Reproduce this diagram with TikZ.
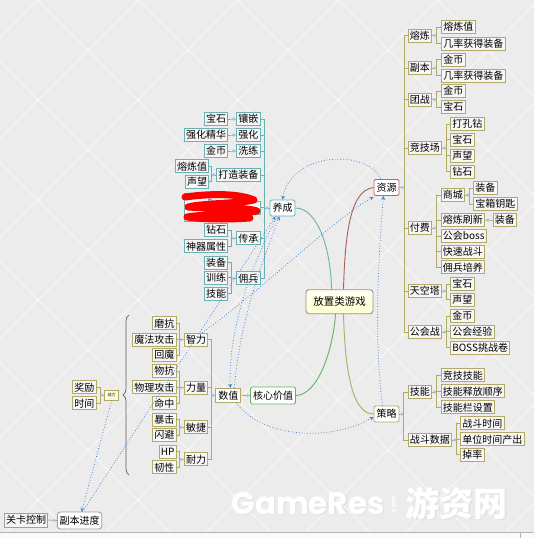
\documentclass[tikz,border=0pt]{standalone}
\usepackage{fontspec}
\setmainfont{Noto Sans CJK SC}
\newfontfamily\wmfont{Poppins}
\usetikzlibrary{decorations.pathreplacing}
\definecolor{olivebr}{RGB}{176,170,100}
\definecolor{tealbr}{RGB}{104,178,178}
\definecolor{greenbr}{RGB}{100,178,96}
\definecolor{redbr}{RGB}{186,104,100}
\definecolor{relblue}{RGB}{58,124,210}
\definecolor{foldblue}{RGB}{160,196,232}
\definecolor{bggray}{RGB}{236,236,236}

\begin{document}
\begin{tikzpicture}[x=1pt,y=-1pt,>=stealth,
  leaf/.style={draw=#1,fill=white!94!gray,line width=0.9pt,
    font=\fontsize{10}{10}\selectfont,text height=8.8pt,text depth=1.2pt,
    inner xsep=1.8pt,inner ysep=0pt,minimum height=13pt},
  leaf/.default=olivebr,
  topic/.style={leaf=#1,fill=white,minimum height=16pt,inner xsep=2.5pt,rounded corners=1.5pt},
  topic/.default=olivebr,
  twig/.style={draw=#1,line width=0.8pt},
  twig/.default=olivebr,
  rel/.style={->,relblue,dotted,line width=0.75pt}]

  \useasboundingbox (0,0) rectangle (534,538);
  % background
  \fill[bggray] (0,0) rectangle (534,538);
  \begin{scope}
    \clip (0,0) rectangle (534,538);
    \foreach \k in {-6,...,5} \draw[white,line width=0.6pt] (38+100*\k,0) -- ++(560,560);
    \foreach \k in {-1,...,10} \draw[white,line width=0.6pt] (138+100*\k,0) -- ++(-560,560);
  \end{scope}
  \fill[white!96!gray] (0,532) rectangle (534,538);
  \draw[gray!60] (0,532) -- (534,532) (520,532) -- (520,538);

  % watermark
  \node[font=\wmfont\bfseries\fontsize{31}{31}\selectfont,text=gray!22,inner sep=0pt] (w1s) at (309.5,505) {GameRes};
  \node[font=\wmfont\bfseries\fontsize{31}{31}\selectfont,text=white,inner sep=0pt] (w1) at (308,503.5) {GameRes};
  \node[rotate=90,font=\wmfont\bfseries\fontsize{7}{7}\selectfont,text=white,inner sep=0pt] (w2) at (394,505) {.com};
  \node[font=\bfseries\fontsize{34}{34}\selectfont,text=gray!22,inner sep=0pt] (w3s) at (458,504.5) {游资网};
  \node[font=\bfseries\fontsize{34}{34}\selectfont,text=white,inner sep=0pt] (w3) at (456.5,503) {游资网};

  % main topics
  \node[topic=redbr] (r) at (386.5,187.5) {资源};
  \node[topic=tealbr] (g) at (282.5,208) {养成};
  \node[topic] (s) at (386.5,414) {策略};
  \node[topic=greenbr,minimum height=17pt] (c) at (273,395.5) {核心价值};
  \node[topic,minimum height=14pt,rounded corners=0pt] (n) at (228.3,395.3) {数值};
  \node[draw=gray!85,top color=yellow!5!white,bottom color=yellow!18!white,rounded corners=3pt,
    line width=0.9pt,minimum width=67pt,minimum height=24pt,font=\fontsize{10.5}{10.5}\selectfont] (m) at (339.5,301.7) {放置类游戏};

  % 资源 / 策略
  \begin{scope}[every node/.append style={anchor=west}]
    \node[leaf] (r1) at (407.7,35.5) {熔炼};
    \node[leaf] (r11) at (441,27) {熔炼值};
    \node[leaf] (r12) at (441,43.5) {几率获得装备};
    \node[leaf] (r2) at (407.7,68) {副本};
    \node[leaf] (r21) at (441,59.5) {金币};
    \node[leaf] (r22) at (441,75.5) {几率获得装备};
    \node[leaf] (r3) at (407.7,99.5) {团战};
    \node[leaf] (r31) at (441,91) {金币};
    \node[leaf] (r32) at (441,107) {宝石};
    \node[leaf] (r4) at (407.7,148) {竞技场};
    \node[leaf] (r41) at (450,124) {打孔钻};
    \node[leaf] (r42) at (450,139.5) {宝石};
    \node[leaf] (r43) at (450,155.5) {声望};
    \node[leaf] (r44) at (450,171.5) {钻石};
    \node[leaf] (r5) at (407.7,228) {付费};
    \node[leaf] (r51) at (440.7,195) {商城};
    \node[leaf] (r511) at (473,188) {装备};
    \node[leaf] (r512) at (473,204) {宝箱钥匙};
    \node[leaf] (r52) at (440.7,220) {熔炼刷新};
    \node[leaf] (r521) at (492.7,220) {装备};
    \node[leaf] (r53) at (440.7,236) {公会boss};
    \node[leaf] (r54) at (440.7,251.5) {快速战斗};
    \node[leaf] (r55) at (440.7,267.3) {佣兵培养};
    \node[leaf] (r6) at (407.7,291) {天空塔};
    \node[leaf] (r61) at (450,284) {宝石};
    \node[leaf] (r62) at (450,299.5) {声望};
    \node[leaf] (r7) at (407.7,332) {公会战};
    \node[leaf] (r71) at (450,316) {金币};
    \node[leaf] (r72) at (450,331.7) {公会经验};
    \node[leaf] (r73) at (450,347.5) {BOSS挑战卷};

    \node[leaf] (s1) at (407.7,392) {技能};
    \node[leaf] (s11) at (440.7,375.3) {竞技技能};
    \node[leaf] (s12) at (440.7,391.3) {技能释放顺序};
    \node[leaf] (s13) at (440.7,407.3) {技能栏设置};
    \node[leaf] (s2) at (407.7,440) {战斗数据};
    \node[leaf] (s21) at (460,423.3) {战斗时间};
    \node[leaf] (s22) at (460,439.3) {单位时间产出};
    \node[leaf] (s23) at (460,454.8) {掉率};
  \end{scope}

  % 养成 / 数值 / 战力
  \begin{scope}[every node/.append style={anchor=east}]
    \node[leaf=tealbr] (g1) at (260.7,119) {镶嵌};
    \node[leaf=tealbr] (g11) at (228.3,119) {宝石};
    \node[leaf=tealbr] (g2) at (260.7,135) {强化};
    \node[leaf=tealbr] (g21) at (228.3,135) {强化精华};
    \node[leaf=tealbr] (g3) at (260.7,151) {洗练};
    \node[leaf=tealbr] (g31) at (228.3,151) {金币};
    \node[leaf=tealbr] (g4) at (260.7,175) {打造装备};
    \node[leaf=tealbr] (g41) at (209.3,166.3) {熔炼值};
    \node[leaf=tealbr] (g42) at (209.3,181.7) {声望};
    \node[leaf=tealbr,minimum width=44pt] (g5) at (260.7,207.5) {};
    \node[leaf=tealbr,minimum width=24pt] (g51) at (209.3,199.5) {};
    \node[leaf=tealbr,minimum width=24pt] (g52) at (209.3,215) {};
    \node[leaf=tealbr] (g6) at (260.7,238.3) {传承};
    \node[leaf=tealbr] (g61) at (228.3,230) {钻石};
    \node[leaf=tealbr] (g62) at (228.3,246.3) {神器属性};
    \node[leaf=tealbr] (g7) at (260.7,278.3) {佣兵};
    \node[leaf=tealbr] (g71) at (228.3,262.5) {装备};
    \node[leaf=tealbr] (g72) at (228.3,277.5) {训练};
    \node[leaf=tealbr] (g73) at (228.3,293.5) {技能};

    \node[leaf] (n1) at (208.3,339.7) {智力};
    \node[leaf] (n11) at (176.7,323.3) {磨抗};
    \node[leaf] (n12) at (176.7,339.5) {魔法攻击};
    \node[leaf] (n13) at (176.7,355) {回魔};
    \node[leaf] (n2) at (208.3,387.7) {力量};
    \node[leaf] (n21) at (176.7,371) {物抗};
    \node[leaf] (n22) at (176.7,387.3) {物理攻击};
    \node[leaf] (n23) at (176.7,403.3) {命中};
    \node[leaf] (n3) at (208.3,427.3) {敏捷};
    \node[leaf] (n31) at (176.7,419.7) {暴击};
    \node[leaf] (n32) at (176.7,435) {闪避};
    \node[leaf] (n4) at (208.3,459.3) {耐力};
    \node[leaf] (n41) at (176.7,451.7) {HP};
    \node[leaf] (n42) at (176.7,467.3) {韧性};

    \node[leaf] (z1) at (96.7,387.3) {奖励};
    \node[leaf] (z2) at (96.7,403.3) {时间};
    \node[leaf=gray!75,fill=white!92!gray,minimum height=14pt] (k) at (48.3,520) {关卡控制};
  \end{scope}
  \node[draw=olivebr,fill=yellow!15!white,line width=0.7pt,font=\fontsize{4}{4}\selectfont,
    minimum width=14pt,minimum height=10pt,inner sep=0pt] (z) at (111.7,395) {战力};
  \node[draw=gray!75,fill=white,rounded corners=3pt,line width=0.9pt,font=\fontsize{10}{10}\selectfont,
    text height=8.8pt,text depth=1.2pt,minimum height=17pt,inner xsep=2.2pt] (p) at (79.5,520.5) {副本进度};

  % tree lines
  \foreach \c in {r1,r2,r3,r4,r5,r6,r7}
    \draw[twig] (r.east) -- +(5,0) |- (\c.west);
  \foreach \p/\c in {r1/r11,r1/r12,r2/r21,r2/r22,r3/r31,r3/r32,r4/r41,r4/r42,r4/r43,r4/r44,
      r5/r51,r5/r52,r5/r53,r5/r54,r5/r55,r51/r511,r51/r512,r52/r521,r6/r61,r6/r62,
      r7/r71,r7/r72,r7/r73,s/s1,s/s2,s1/s11,s1/s12,s1/s13,s2/s21,s2/s22,s2/s23}
    \draw[twig] (\p.east) -- +(4.4,0) |- (\c.west);
  \foreach \c in {g1,g2,g3,g4,g5,g6,g7}
    \draw[twig=tealbr] (g.west) -- +(-4.7,0) |- (\c.east);
  \foreach \p/\c in {g1/g11,g2/g21,g3/g31,g4/g41,g4/g42,g5/g51,g5/g52,g6/g61,g6/g62,g7/g71,g7/g72,g7/g73}
    \draw[twig=tealbr] (\p.west) -- +(-4.4,0) |- (\c.east);
  \foreach \p/\c in {n/n1,n/n2,n/n3,n/n4,n1/n11,n1/n12,n1/n13,n2/n21,n2/n22,n2/n23,
      n3/n31,n3/n32,n4/n41,n4/n42,z/z1,z/z2}
    \draw[twig] (\p.west) -- +(-4.4,0) |- (\c.east);
  \draw[twig] (c.west) -- (n.east);
  \draw[twig=gray!75] (p.west) -- (k.east);
  \foreach \p in {r,r1,r2,r3,r4,r5,r6,r7,r51,r52,s,s1,s2}
    \fill[foldblue] ([xshift=2.6pt]\p.east) circle (1.7pt);
  \foreach \p in {g,g1,g2,g3,g4,g5,g6,g7,c,n,n1,n2,n3,n4,z,p}
    \fill[foldblue] ([xshift=-2.6pt]\p.west) circle (1.7pt);

  % brace
  \draw[gray!75!black,line width=0.7pt,decorate,decoration={brace,amplitude=6pt}] (129,475) -- (129,315);

  % hidden label
  \draw[red,line width=7pt,line cap=round,line join=round]
    (185,197) .. controls (215,193) and (240,194) .. (254,200)
    .. controls (235,204) and (205,203) .. (188,207)
    .. controls (215,209) and (245,207) .. (257,211)
    .. controls (235,215) and (205,214) .. (187,217)
    .. controls (210,220) and (235,219) .. (250,218);

  % main branches
  \draw[tealbr,line width=0.9pt] (g.east) .. controls (318,208) and (331,250) .. ([xshift=-8pt]m.north);
  \draw[redbr!90!black,line width=0.9pt] ([xshift=4pt]m.north) .. controls (345,235) and (350,190) .. (r.west);
  \draw[greenbr,line width=0.9pt] (c.east) .. controls (318,395) and (333,350) .. ([xshift=-4pt]m.south);
  \draw[olivebr,line width=0.9pt] ([xshift=4pt]m.south) .. controls (345,370) and (352,414) .. (s.west);

  % relations
  \draw[rel] ([xshift=-6pt]r.north) .. controls (370,150) and (292,150) .. (g.north);
  \draw[rel] ([xshift=-5pt]g.south) .. controls (252,262) and (228,330) .. ([xshift=2pt]n.north);
  \draw[rel] ([xshift=6pt]n.north) .. controls (240,320) and (262,262) .. ([xshift=-3pt]g.south);
  \draw[rel] ([xshift=3pt]p.north) -- ([xshift=-7pt]g.south);
  \draw[rel] ([xshift=6pt]n1.north) .. controls (262,290) and (335,218) .. ([yshift=-1pt]r.south west);
  \draw[rel] (z.south) -- ([xshift=2pt]p.north);
  \draw[rel] ([xshift=8pt]n.south) .. controls (262,438) and (330,442) .. ([yshift=-3pt]s.west);
  \draw[rel] ([xshift=-4pt]s.north) .. controls (374,340) and (378,262) .. ([xshift=-3pt]r.south);
\end{tikzpicture}
\end{document}
